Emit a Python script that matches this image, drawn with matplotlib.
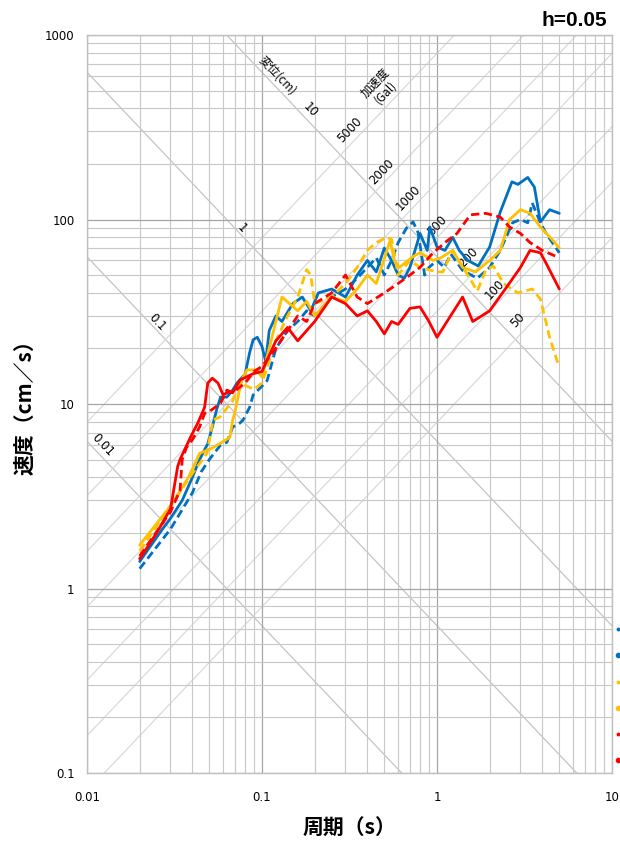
import matplotlib
matplotlib.use("Agg")
import matplotlib.pyplot as plt
from matplotlib.lines import Line2D
import numpy as np

plt.rcParams["font.family"] = ["DejaVu Sans", "Noto Sans CJK JP"]

# ---- response spectra (period [s], pseudo velocity [cm/s]) ----
blue_solid_T = [0.02, 0.027, 0.03, 0.035, 0.04, 0.044, 0.049, 0.052, 0.055, 0.058, 0.063, 0.068,
                0.072, 0.08, 0.085, 0.089, 0.094, 0.1, 0.105, 0.11, 0.12, 0.13, 0.15, 0.17, 0.19,
                0.21, 0.25, 0.3, 0.35, 0.4, 0.45, 0.5, 0.55, 0.6, 0.65, 0.7, 0.8, 0.88, 0.91, 1.0,
                1.11, 1.23, 1.34, 1.5, 1.72, 2.0, 2.3, 2.68, 2.9, 3.3, 3.6, 3.9, 4.4, 5.0]
blue_solid_V = [1.4, 2.1, 2.4, 3.0, 4.0, 5.0, 6.1, 7.5, 9.3, 10.9, 10.9, 11.9,
                13.0, 14.5, 19.0, 22.3, 23.0, 20.5, 17.0, 25.0, 30.0, 28.0, 35.0, 38.0, 32.0,
                40.0, 42.0, 38.0, 50.0, 60.0, 52.0, 70.0, 60.0, 50.0, 48.0, 55.0, 84.0, 68.0, 91.0, 71.0,
                68.0, 80.0, 68.0, 60.0, 56.0, 71.0, 110.0, 160.0, 155.0, 169.0, 150.0, 97.0, 113.0, 108.0]

blue_dash_T = [0.02, 0.03, 0.04, 0.045, 0.05, 0.058, 0.063, 0.068, 0.075, 0.078, 0.085, 0.089, 0.1,
               0.107, 0.12, 0.14, 0.16, 0.18, 0.2, 0.25, 0.3, 0.35, 0.4, 0.45, 0.5, 0.55, 0.6, 0.67,
               0.73, 0.78, 0.85, 0.9, 1.0, 1.1, 1.2, 1.4, 1.7, 2.0, 2.3, 2.7, 3.0, 3.3, 3.5, 3.9,
               4.2, 5.0]
blue_dash_V = [1.28, 2.1, 3.3, 4.3, 5.0, 6.0, 6.2, 7.5, 7.9, 8.2, 9.6, 11.2, 12.5,
               13.4, 20.0, 25.0, 28.0, 32.0, 30.0, 38.0, 42.0, 48.0, 55.0, 62.0, 50.0, 60.0, 75.0, 90.0,
               97.0, 85.0, 50.0, 55.0, 60.0, 55.0, 65.0, 53.0, 48.0, 55.0, 68.0, 96.0, 100.0, 96.0, 123.0, 96.0,
               84.0, 66.0]

yellow_solid_T = [0.02, 0.03, 0.038, 0.044, 0.0525, 0.0656, 0.068, 0.07, 0.075, 0.078, 0.082, 0.093,
                  0.1, 0.12, 0.13, 0.16, 0.18, 0.2, 0.25, 0.3, 0.35, 0.4, 0.45, 0.54, 0.57, 0.61,
                  0.73, 0.8, 0.95, 1.05, 1.23, 1.4, 1.66, 2.0, 2.3, 2.6, 3.0, 3.4, 3.9, 4.6, 5.0]
yellow_solid_V = [1.72, 2.8, 4.0, 5.4, 5.8, 6.6, 8.2, 9.0, 12.4, 14.0, 15.3, 15.3,
                  14.0, 28.0, 38.0, 32.0, 36.0, 30.0, 38.0, 36.0, 42.0, 50.0, 45.0, 77.0, 60.0, 55.0,
                  63.0, 66.0, 60.0, 62.0, 68.0, 55.0, 52.0, 60.0, 68.0, 100.0, 113.0, 108.0, 91.0, 77.0, 70.0]

yellow_dash_T = [0.02, 0.03, 0.04, 0.0485, 0.0525, 0.0575, 0.068, 0.075, 0.09, 0.1, 0.12, 0.14,
                 0.16, 0.18, 0.19, 0.2, 0.25, 0.3, 0.35, 0.4, 0.45, 0.517, 0.55, 0.6, 0.7, 0.8, 1.0,
                 1.08, 1.23, 1.7, 1.9, 2.1, 2.4, 2.9, 3.5, 3.9, 4.4, 4.9]
yellow_dash_V = [1.6, 2.8, 4.2, 5.4, 8.2, 8.5, 10.4, 13.0, 12.0, 13.0, 22.0, 30.0,
                 38.0, 53.5, 50.0, 35.0, 38.0, 45.0, 55.0, 68.0, 75.0, 80.0, 78.0, 50.0, 60.0, 55.0, 52.0,
                 52.0, 68.0, 41.0, 53.0, 56.0, 45.0, 40.0, 42.0, 37.0, 23.0, 16.7]

red_solid_T = [0.02, 0.025, 0.03, 0.033, 0.034, 0.039, 0.043, 0.047, 0.049, 0.052, 0.056, 0.06,
               0.064, 0.068, 0.075, 0.089, 0.1, 0.12, 0.14, 0.16, 0.18, 0.2, 0.25, 0.3, 0.35, 0.4,
               0.45, 0.5, 0.55, 0.6, 0.7, 0.8, 0.9, 1.0, 1.4, 1.6, 2.0, 2.5, 3.0, 3.4, 3.9, 4.2, 5.0]
red_solid_V = [1.45, 2.0, 2.7, 4.6, 5.0, 6.6, 7.9, 9.6, 13.0, 13.8, 13.0, 11.2,
               11.6, 11.5, 13.5, 14.6, 15.0, 22.0, 26.0, 22.0, 25.0, 28.0, 38.0, 35.0, 30.0, 32.0,
               28.0, 24.0, 28.0, 27.0, 33.0, 33.6, 28.0, 23.0, 38.0, 28.0, 32.0, 43.0, 55.0, 68.0, 66.0, 58.0, 42.0]

red_dash_T = [0.02, 0.03, 0.034, 0.035, 0.037, 0.04, 0.044, 0.047, 0.05, 0.058, 0.063, 0.068, 0.08,
              0.09, 0.1, 0.12, 0.14, 0.16, 0.18, 0.2, 0.25, 0.3, 0.35, 0.4, 0.5, 0.6, 0.7, 0.8,
              0.95, 1.15, 1.3, 1.55, 1.9, 2.3, 2.6, 3.0, 3.4, 4.0, 5.0]
red_dash_V = [1.5, 2.6, 3.4, 5.0, 5.8, 6.4, 7.5, 8.9, 9.1, 10.1, 11.9, 11.5, 13.0,
              15.0, 16.0, 20.0, 25.0, 30.0, 28.0, 35.0, 40.0, 50.0, 38.0, 35.0, 40.0, 45.0, 50.0, 55.0,
              66.0, 77.0, 84.0, 106.0, 108.0, 103.0, 91.0, 84.0, 75.0, 68.0, 62.0]

# guide lines of the tripartite chart
disp_levels = [0.01, 0.1, 1, 10]                      # cm
acc_levels = [50, 100, 200, 500, 1000, 2000, 5000]    # Gal

BLUE = "#0070C0"
YELLOW = "#FFC000"
RED = "#FF0000"

W, H = 620, 848
fig = plt.figure(figsize=(W / 100, H / 100), dpi=100)
L, R, T_, B = 87, 612, 35, 773
ax = fig.add_axes([L / W, 1 - B / H, (R - L) / W, (B - T_) / H])
ax.set_xscale("log")
ax.set_yscale("log")
ax.set_xlim(0.01, 10)
ax.set_ylim(0.1, 1000)

# log grid
ax.grid(which="major", color="#a6a6a6", lw=0.9, zorder=0)
ax.grid(which="minor", color="#c8c8c8", lw=0.8, zorder=0)
ax.tick_params(which="both", length=0)
ax.tick_params(axis="x", pad=13, labelsize=8.5)
ax.tick_params(axis="y", pad=9, labelsize=8.5)
ax.set_xticks([0.01, 0.1, 1, 10])
ax.set_xticklabels(["0.01", "0.1", "1", "10"])
ax.set_yticks([0.1, 1, 10, 100, 1000])
ax.set_yticklabels(["0.1", "1", "10", "100", "1000"])
for s in ax.spines.values():
    s.set_color("#bfbfbf")
    s.set_linewidth(1.0)

# displacement (V = 2*pi*D/T) and acceleration (V = A*T/(2*pi)) lines
Tg = np.logspace(-2, 1, 50)
for d in disp_levels:
    ax.plot(Tg, 2 * np.pi * d / Tg, color="#c4c4c4", lw=0.9, zorder=1)
for a in acc_levels:
    ax.plot(Tg, a * Tg / (2 * np.pi), color="#dadada", lw=0.9, zorder=1)


def px(x, y):
    return ((x - L) / (R - L), (B - y) / (B - T_))


ang_d = -np.degrees(np.arctan(184.5 / 175))
ang_a = -ang_d
lab_kw = dict(transform=ax.transAxes, ha="center", va="center", fontsize=8.5, zorder=2)
for txt, (x, y) in [("0.01", (103, 445)), ("0.1", (157, 322)), ("1", (242, 228)), ("10", (310, 110))]:
    ax.text(*px(x, y), txt, rotation=ang_d, **lab_kw)
ax.text(*px(277, 75), "変位(cm)", rotation=ang_d, family=["Noto Sans CJK JP"], **lab_kw)
for txt, (x, y) in [("5000", (350, 130)), ("2000", (382, 172)), ("1000", (408, 198)),
                    ("500", (437, 226)), ("200", (468, 258)), ("100", (495, 290)), ("50", (518, 320))]:
    ax.text(*px(x, y), txt, rotation=ang_a, **lab_kw)
ax.text(*px(380, 88), "加速度\n(Gal)", rotation=ang_a, family=["Noto Sans CJK JP"],
        linespacing=1.1, **lab_kw)

# spectra
lw = 2.0
dash = (3.0, 1.6)
series = [
    (blue_dash_T, blue_dash_V, BLUE, True),
    (blue_solid_T, blue_solid_V, BLUE, False),
    (yellow_dash_T, yellow_dash_V, YELLOW, True),
    (yellow_solid_T, yellow_solid_V, YELLOW, False),
    (red_dash_T, red_dash_V, RED, True),
    (red_solid_T, red_solid_V, RED, False),
]
keys = []
for t, v, c, dashed in series:
    ln, = ax.plot(t, v, color=c, lw=lw, zorder=3,
                  solid_joinstyle="round", solid_capstyle="round")
    if dashed:
        ln.set_dashes(dash)
    keys.append(Line2D([], [], ls="none", marker="o", color=c,
                       markersize=1.8 if dashed else 3.0))

# legend keys sit at the right edge of the canvas
fig.legend(handles=keys, labels=[""] * len(keys), loc="upper left",
           bbox_to_anchor=(614 / W, 1 - 623 / H), frameon=False, fontsize=10,
           labelspacing=0.88, handlelength=0.6, handletextpad=0.2,
           borderpad=0, borderaxespad=0)

ax.set_xlabel("周期（s）", family=["Noto Sans CJK JP"], fontsize=15, fontweight="bold", labelpad=10)
fig.text(25 / W, 1 - 402 / H, "速度（cm／s）", rotation=90, ha="center", va="center",
         family=["Noto Sans CJK JP"], fontsize=15, fontweight="bold")
fig.text(607 / W, 1 - 20 / H, "h=0.05", ha="right", va="center", fontsize=15,
         family=["Liberation Sans"], fontweight="bold")

fig.savefig("out.png", dpi=100)
